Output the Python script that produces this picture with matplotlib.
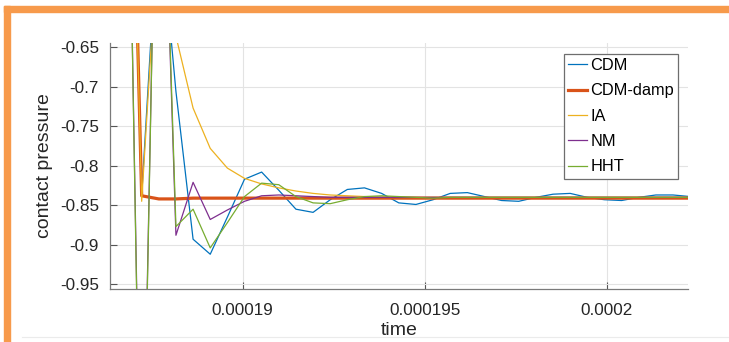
import matplotlib
matplotlib.use("Agg")
import matplotlib.pyplot as plt
from matplotlib.patches import Rectangle
from matplotlib.lines import Line2D
from matplotlib.ticker import FuncFormatter

plt.rcParams['font.family'] = ['Liberation Sans', 'DejaVu Sans']

## time steps
time = [1.86754e-4, 1.87225e-4, 1.87696e-4, 1.88166e-4, 1.88637e-4, 1.89108e-4,
        1.89579e-4, 1.90050e-4, 1.90520e-4, 1.90991e-4, 1.91462e-4, 1.91933e-4,
        1.92404e-4, 1.92874e-4, 1.93345e-4, 1.93816e-4, 1.94287e-4, 1.94758e-4,
        1.95228e-4, 1.95699e-4, 1.96170e-4, 1.96641e-4, 1.97112e-4, 1.97582e-4,
        1.98053e-4, 1.98524e-4, 1.98995e-4, 1.99466e-4, 1.99936e-4, 2.00407e-4,
        2.00878e-4, 2.01349e-4, 2.01820e-4, 2.02290e-4]

## contact pressure per scheme
p_cdm = [0.0, -0.838, -0.47, -0.706, -0.893, -0.912, -0.865, -0.817, -0.808,
         -0.831, -0.855, -0.859, -0.843, -0.830, -0.828, -0.835, -0.847, -0.849,
         -0.843, -0.835, -0.834, -0.839, -0.844, -0.845, -0.840, -0.836, -0.835,
         -0.840, -0.843, -0.844, -0.840, -0.837, -0.837, -0.839]
p_damp = [0.0, -0.838, -0.842, -0.842, -0.841, -0.841, -0.841, -0.841, -0.841,
          -0.841, -0.841, -0.841, -0.841, -0.841, -0.841, -0.841, -0.841, -0.841,
          -0.841, -0.841, -0.841, -0.841, -0.841, -0.841, -0.841, -0.841, -0.841,
          -0.841, -0.841, -0.841, -0.841, -0.841, -0.841, -0.841]
p_ia = [0.0, -0.845, -0.49, -0.636, -0.727, -0.778, -0.803, -0.816, -0.823,
        -0.828, -0.832, -0.835, -0.837, -0.838, -0.839, -0.840, -0.840, -0.840,
        -0.840, -0.840, -0.840, -0.840, -0.840, -0.840, -0.840, -0.840, -0.840,
        -0.840, -0.840, -0.840, -0.840, -0.840, -0.840, -0.840]
p_nm = [-0.09, -1.31, -0.21, -0.888, -0.821, -0.868, -0.856, -0.845, -0.838,
        -0.837, -0.838, -0.839, -0.840, -0.840, -0.840, -0.840, -0.840, -0.840,
        -0.840, -0.840, -0.840, -0.840, -0.840, -0.840, -0.840, -0.840, -0.840,
        -0.840, -0.840, -0.840, -0.840, -0.840, -0.840, -0.840]
p_hht = [-0.08, -1.33, -0.20, -0.877, -0.855, -0.904, -0.872, -0.839, -0.822,
         -0.824, -0.839, -0.847, -0.848, -0.843, -0.839, -0.838, -0.839, -0.840,
         -0.841, -0.840, -0.840, -0.840, -0.840, -0.840, -0.840, -0.840, -0.840,
         -0.840, -0.840, -0.840, -0.840, -0.840, -0.840, -0.840]

labels = ['CDM', 'CDM-damp', 'IA', 'NM', 'HHT']
y_ticks = [-0.95, -0.9, -0.85, -0.8, -0.75, -0.7, -0.65]
x_ticks = [0.00019, 0.000195, 0.0002]

## plotting
fig = plt.figure(figsize=(7.29, 3.42), dpi=100)
ax = fig.add_axes([0.1509, 0.1550, 0.7929, 0.7193])

ax.plot(time, p_cdm, color='#0072BD', linewidth=0.9)
ax.plot(time, p_damp, color='#D95319', linewidth=2.3)
ax.plot(time, p_ia, color='#EDB120', linewidth=0.9)
ax.plot(time, p_nm, color='#7E2F8E', linewidth=0.9)
ax.plot(time, p_hht, color='#77AC30', linewidth=0.9)

ax.set_xlim(1.86355e-4, 2.02232e-4)
ax.set_ylim(-0.956, -0.6446)
ax.set_xticks(x_ticks)
ax.set_yticks(y_ticks)
ax.xaxis.set_major_formatter(FuncFormatter(lambda v, p: '%g' % v))
ax.yaxis.set_major_formatter(FuncFormatter(lambda v, p: '%g' % v))

ax.grid(True, color='#e3e3e3', linewidth=0.8)
ax.set_axisbelow(True)
for s in ['top', 'right']:
    ax.spines[s].set_visible(False)
for s in ['left', 'bottom']:
    ax.spines[s].set_color('#7a7a7a')
    ax.spines[s].set_linewidth(0.9)
ax.tick_params(direction='in', length=5, width=0.8, color='#555555',
               labelsize=12.3, labelcolor='#262626')
ax.tick_params(axis='y', pad=8)
ax.tick_params(axis='x', pad=10)

ax.set_xlabel('time', fontsize=14, color='#262626')
ax.set_ylabel('contact pressure', fontsize=14, color='#262626')
ax.xaxis.set_label_coords(0.5, -0.167)
ax.xaxis.label.set_va('center')
ax.yaxis.set_label_coords(-0.114, 0.5)
ax.yaxis.label.set_va('center')

leg = ax.legend(labels, loc='upper right', bbox_to_anchor=(0.983, 0.955),
                borderaxespad=0, fontsize=11.8, handlelength=1.15,
                handletextpad=0.2, borderpad=0.25, labelspacing=0.63,
                fancybox=False, framealpha=1, edgecolor='#6e6e6e')
leg.get_frame().set_linewidth(0.9)

## page frame
fig.patches.append(Rectangle((4 / 729, 1 - 12 / 342), 725 / 729, 6 / 342,
                             transform=fig.transFigure, color='#F79A4B', zorder=0))
fig.patches.append(Rectangle((4 / 729, 0), 6 / 729, 1 - 6 / 342,
                             transform=fig.transFigure, color='#F79A4B', zorder=0))
fig.lines.append(Line2D([22 / 729, 1], [1 - 337 / 342] * 2,
                        transform=fig.transFigure, color='#ebebeb', linewidth=0.8))

plt.savefig("out.png", dpi=100)
